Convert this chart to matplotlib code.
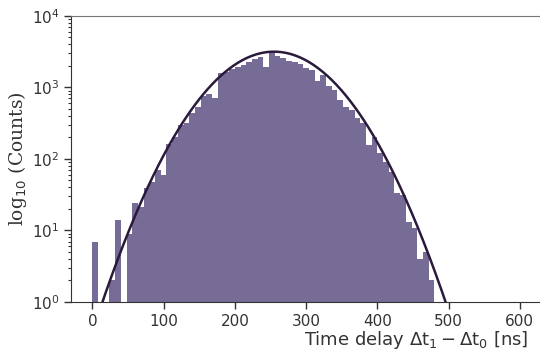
import numpy as np
import matplotlib
matplotlib.use("Agg")
import matplotlib.pyplot as plt
from matplotlib.ticker import LogLocator, NullFormatter

# Histogram: 8 ns bins from 0 to 480 ns
bin_width = 8
bin_lefts = list(range(0, 480, 8))
counts = [7, 0, 0, 2, 14, 0, 9, 24, 21, 39,
          48, 70, 60, 162, 205, 300, 318, 440, 535, 760,
          820, 700, 1590, 1660, 1820, 1940, 2060, 2300, 2500, 2700,
          1900, 3050, 2750, 2600, 2360, 2300, 2140, 1870, 1750, 1210,
          1490, 1030, 920, 670, 540, 485, 370, 317, 157, 205,
          121, 92, 66, 33, 31, 13, 11, 4, 5, 2]

# Gaussian fit parameters
fit_amp = 3160.0
fit_mu = 255.0
fit_sigma = 60.0

xticks = [0, 100, 200, 300, 400, 500, 600]

bar_color = "#766c95"
line_color = "#2b1a3b"

plt.rcParams["mathtext.fontset"] = "dejavusans"

fig = plt.figure(figsize=(5.4, 3.53), dpi=100)
ax = fig.add_axes([0.1315, 0.1445, 0.868, 0.8105])

ax.bar(bin_lefts, counts, width=bin_width, align="edge", color=bar_color,
       linewidth=0)

xf = np.linspace(0, 520, 600)
yf = fit_amp * np.exp(-(xf - fit_mu) ** 2 / (2 * fit_sigma ** 2))
ax.plot(xf, yf, color=line_color, lw=1.8)

ax.set_yscale("log")
ax.set_ylim(1, 1e4)
ax.set_xlim(-30, 628)
ax.set_xticks(xticks)
ax.yaxis.set_major_locator(LogLocator(base=10, numticks=10))
ax.yaxis.set_minor_locator(LogLocator(base=10, subs=np.arange(2, 10), numticks=20))
ax.yaxis.set_minor_formatter(NullFormatter())

ax.spines["right"].set_visible(False)
ax.spines["top"].set_color("#777777")
ax.spines["left"].set_color("#333333")
ax.spines["bottom"].set_color("#333333")

ax.tick_params(axis="both", which="major", direction="out", length=5,
               width=1.0, color="#333333", labelsize=11, labelcolor="#333333")
ax.tick_params(axis="y", which="minor", direction="out", length=2.5,
               width=0.8, color="#333333")
ax.tick_params(axis="x", which="both", top=False)

ax.set_xlabel(r"Time delay $\Delta\mathrm{t}_1 - \Delta\mathrm{t}_0$ [ns]",
              fontsize=13, color="#333333", ha="right")
ax.xaxis.set_label_coords(0.976, -0.095)
ax.set_ylabel(r"log$_{10}$ (Counts)", fontsize=13.5, color="#333333",
              family="DejaVu Serif")
ax.yaxis.set_label_coords(-0.09, 0.5)

fig.savefig("out.png", dpi=100)
